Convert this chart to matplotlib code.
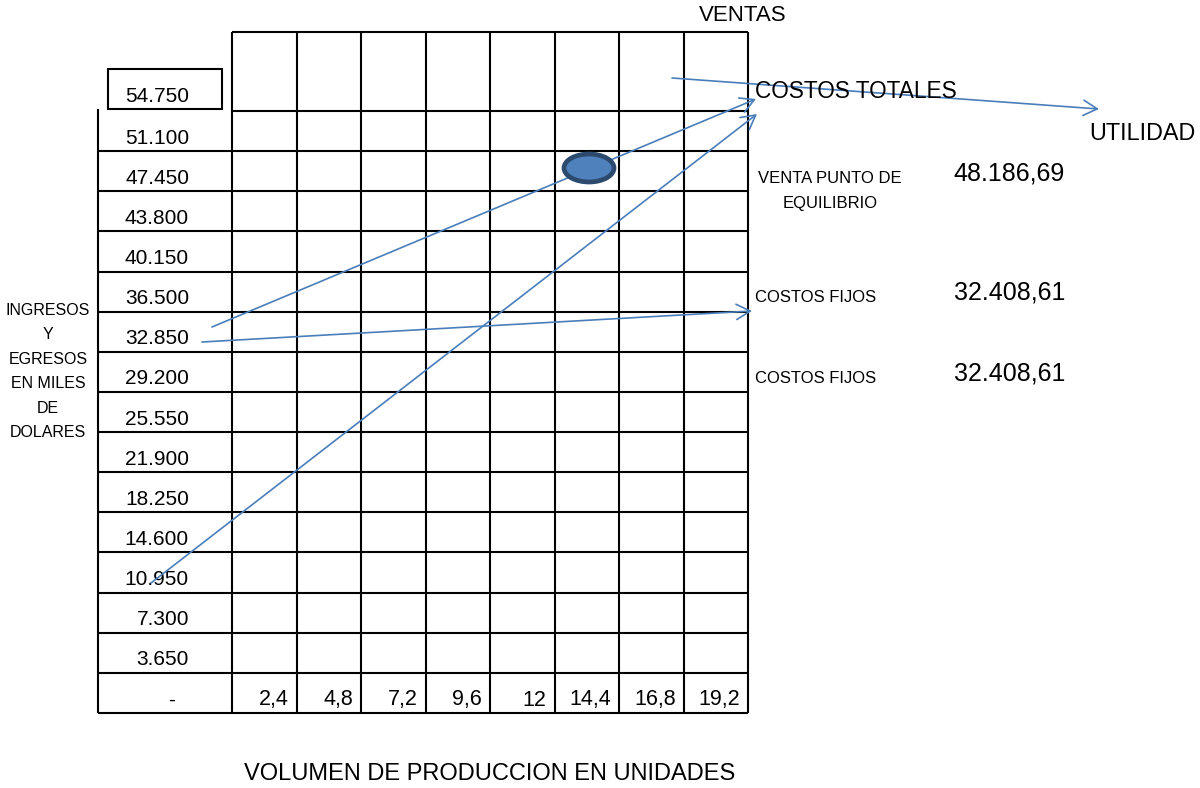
import numpy as np
import matplotlib.pyplot as plt
from matplotlib.patches import Rectangle, Ellipse

# ingresos y egresos en miles de dolares (de arriba hacia abajo)
ingresos = [54750, 51100, 47450, 43800, 40150, 36500, 32850, 29200,
            25550, 21900, 18250, 14600, 10950, 7300, 3650]
# volumen de produccion en unidades
volumen = [2.4, 4.8, 7.2, 9.6, 12, 14.4, 16.8, 19.2]

venta_equilibrio = 48186.69
costos_fijos = [32408.61, 32408.61]

eje_y = ["INGRESOS", "Y", "EGRESOS", "EN MILES", "DE", "DOLARES"]
eje_x = "VOLUMEN DE PRODUCCION EN UNIDADES"

# flechas dibujadas sobre la tabla: (nombre, cola, punta)
flechas = [
    ("VENTAS", (212, 327), (756, 99)),
    ("COSTOS FIJOS", (202, 342), (752, 311)),
    ("COSTOS TOTALES", (151, 583), (757, 114)),
    ("UTILIDAD", (672, 78), (1099, 109)),
]
punto_equilibrio = (589, 168)

plt.rcParams["font.family"] = ["Liberation Sans", "DejaVu Sans"]


def miles(v, dec=0):
    s = f"{v:,.{dec}f}"
    return s.replace(",", "X").replace(".", ",").replace("X", ".")


fig = plt.figure(figsize=(12, 7.88), dpi=100)
ax = fig.add_axes([0, 0, 1, 1])
ax.set_xlim(0, 1200)
ax.set_ylim(788, 0)
ax.axis("off")

# geometria de la tabla
left, label_right, right = 98, 232, 748
top, first_row, bottom = 32, 111, 713
col_x = np.linspace(label_right, right, len(volumen) + 1)
row_y = np.linspace(first_row, bottom, len(ingresos) + 1)
grid = dict(color="black", lw=1.5, zorder=2)

ax.vlines(col_x, top, bottom, **grid)
ax.hlines([top, first_row], label_right, right, **grid)
ax.hlines(row_y[1:], left, right, **grid)
ax.vlines(left, first_row - 2, bottom, **grid)
ax.add_patch(Rectangle((108, 69), 114, 40, fill=False, ec="black", lw=1.5))

# etiquetas de ingresos
ax.text(189, 102, miles(ingresos[0]), ha="right", va="baseline", fontsize=15)
for i, v in enumerate(ingresos[1:]):
    ax.text(189, row_y[i + 1] - 7.5, miles(v), ha="right", va="baseline",
            fontsize=15)
ax.text(172, bottom - 7.5, "-", ha="center", va="baseline", fontsize=15)

# etiquetas de volumen
for i, v in enumerate(volumen):
    ax.text(col_x[i + 1] - 8, bottom - 7.5, f"{v:g}".replace(".", ","),
            ha="right", va="baseline", fontsize=15.5)

# flechas
for nombre, cola, punta in flechas:
    ax.annotate("", xy=punta, xytext=cola,
                arrowprops=dict(arrowstyle="->,head_length=1.0,head_width=0.55",
                                color="#4A7EBB", lw=1.2, shrinkA=0, shrinkB=0),
                zorder=3)

ax.add_patch(Ellipse(punto_equilibrio, 50, 28, fc="#4F81BD", ec="#2C4A6E",
                     lw=3.4, zorder=4))

# textos
ax.text(743, 15, "VENTAS", ha="center", va="center", fontsize=16)
ax.text(755, 91, "COSTOS TOTALES", ha="left", va="center", fontsize=16.3)
ax.text(1089, 133, "UTILIDAD", ha="left", va="center", fontsize=16.8)
ax.text(830, 178, "VENTA PUNTO DE", ha="center", va="center", fontsize=12)
ax.text(830, 203, "EQUILIBRIO", ha="center", va="center", fontsize=12)
ax.text(1065, 173, miles(venta_equilibrio, 2), ha="right", va="center",
        fontsize=18)
for y_txt, y_num, cf in zip([297, 378], [292, 373], costos_fijos):
    ax.text(755, y_txt, "COSTOS FIJOS", ha="left", va="center", fontsize=12)
    ax.text(1065, y_num, miles(cf, 2), ha="right", va="center", fontsize=18)

for i, linea in enumerate(eje_y):
    ax.text(48, 310 + i * 24.5, linea, ha="center", va="center", fontsize=11.5)
ax.text(490, 774, eje_x, ha="center", va="center", fontsize=17)

fig.savefig("out.png", dpi=100)
